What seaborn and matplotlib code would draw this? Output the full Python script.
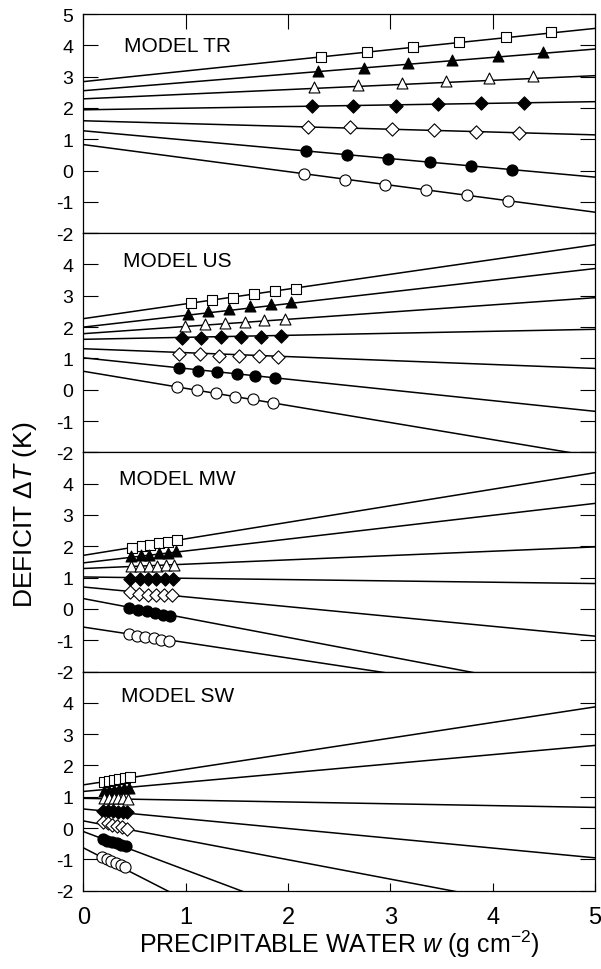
import matplotlib
matplotlib.use("Agg")
import matplotlib.pyplot as plt
import seaborn as sns
import numpy as np
import pandas as pd

# ---------------- data ----------------
PANELS = ["MODEL TR", "MODEL US", "MODEL MW", "MODEL SW"]
LINE_W = [0.0, 5.0]  # fitted lines evaluated at w = 0 and w = 5

# fitted line values at w=0 and w=5 (7 lines per panel, top to bottom)
TR_LINE_0 = [2.84, 2.55, 2.29, 1.94, 1.59, 1.27, 0.83]
TR_LINE_5 = [4.54, 3.88, 3.03, 2.20, 1.14, -0.21, -1.33]
US_LINE_0 = [2.27, 2.00, 1.79, 1.61, 1.31, 1.02, 0.59]
US_LINE_5 = [4.63, 3.87, 2.94, 1.93, 0.68, -0.69, -2.14]
MW_LINE_0 = [1.71, 1.47, 1.29, 1.02, 0.70, 0.33, -0.58]
MW_LINE_5 = [4.35, 3.37, 1.98, 0.81, -0.87, -2.77, -3.05]
SW_LINE_0 = [1.38, 1.17, 0.95, 0.61, 0.23, -0.11, -0.63]
SW_LINE_5 = [3.87, 2.64, 0.66, -0.95, -2.87, -6.25, -8.98]

# symbols: open square, filled triangle, open triangle, filled diamond,
# open diamond, filled circle, open circle
SERIES = ["sq", "tri_f", "tri_o", "dia_f", "dia_o", "cir_f", "cir_o"]

TR_W = [[2.32, 2.77, 3.22, 3.67, 4.13, 4.57],
        [2.29, 2.74, 3.17, 3.60, 4.05, 4.49],
        [2.25, 2.68, 3.11, 3.54, 3.96, 4.39],
        [2.23, 2.64, 3.06, 3.47, 3.89, 4.31],
        [2.20, 2.61, 3.02, 3.43, 3.84, 4.26],
        [2.18, 2.58, 2.98, 3.39, 3.79, 4.19],
        [2.16, 2.56, 2.95, 3.35, 3.75, 4.15]]
TR_DT = [[3.62, 3.78, 3.94, 4.10, 4.28, 4.41],
         [3.19, 3.28, 3.43, 3.54, 3.65, 3.78],
         [2.66, 2.73, 2.80, 2.87, 2.95, 3.01],
         [2.05, 2.05, 2.07, 2.11, 2.15, 2.16],
         [1.40, 1.38, 1.33, 1.28, 1.24, 1.19],
         [0.62, 0.51, 0.37, 0.27, 0.14, 0.03],
         [-0.11, -0.29, -0.45, -0.61, -0.78, -0.96]]

US_W = [[1.05, 1.26, 1.46, 1.67, 1.87, 2.08],
        [1.02, 1.22, 1.42, 1.63, 1.83, 2.03],
        [0.99, 1.19, 1.38, 1.58, 1.77, 1.97],
        [0.96, 1.15, 1.35, 1.54, 1.74, 1.93],
        [0.94, 1.14, 1.33, 1.52, 1.72, 1.90],
        [0.94, 1.12, 1.31, 1.50, 1.68, 1.87],
        [0.92, 1.11, 1.30, 1.48, 1.66, 1.85]]
US_DT = [[2.76, 2.85, 2.94, 3.05, 3.15, 3.23],
         [2.41, 2.50, 2.59, 2.66, 2.73, 2.80],
         [2.05, 2.09, 2.14, 2.17, 2.23, 2.27],
         [1.66, 1.66, 1.68, 1.68, 1.69, 1.71],
         [1.15, 1.15, 1.09, 1.07, 1.07, 1.04],
         [0.70, 0.61, 0.56, 0.51, 0.45, 0.36],
         [0.09, -0.02, -0.12, -0.23, -0.31, -0.42]]

MW_W = [[0.48, 0.57, 0.65, 0.74, 0.83, 0.92],
        [0.47, 0.56, 0.64, 0.74, 0.83, 0.91],
        [0.47, 0.55, 0.64, 0.72, 0.81, 0.89],
        [0.46, 0.55, 0.63, 0.71, 0.80, 0.88],
        [0.46, 0.54, 0.63, 0.71, 0.79, 0.87],
        [0.45, 0.53, 0.62, 0.70, 0.78, 0.85],
        [0.45, 0.52, 0.60, 0.69, 0.76, 0.84]]
MW_DT = [[1.96, 2.01, 2.05, 2.11, 2.14, 2.19],
         [1.69, 1.71, 1.73, 1.77, 1.80, 1.84],
         [1.37, 1.37, 1.38, 1.38, 1.39, 1.39],
         [0.97, 0.97, 0.96, 0.96, 0.96, 0.96],
         [0.54, 0.49, 0.46, 0.46, 0.43, 0.43],
         [0.04, -0.03, -0.07, -0.12, -0.18, -0.23],
         [-0.80, -0.85, -0.90, -0.93, -0.98, -1.01]]

SW_W = [[0.20, 0.25, 0.30, 0.35, 0.41, 0.46],
        [0.20, 0.25, 0.30, 0.35, 0.40, 0.45],
        [0.20, 0.25, 0.30, 0.34, 0.39, 0.44],
        [0.19, 0.24, 0.29, 0.34, 0.39, 0.43],
        [0.19, 0.24, 0.28, 0.33, 0.38, 0.43],
        [0.19, 0.23, 0.28, 0.33, 0.37, 0.42],
        [0.18, 0.23, 0.27, 0.32, 0.37, 0.41]]
SW_DT = [[1.47, 1.50, 1.53, 1.56, 1.59, 1.62],
         [1.18, 1.20, 1.23, 1.25, 1.27, 1.29],
         [0.96, 0.96, 0.95, 0.95, 0.95, 0.94],
         [0.56, 0.55, 0.54, 0.52, 0.51, 0.50],
         [0.20, 0.15, 0.11, 0.07, 0.03, -0.02],
         [-0.36, -0.41, -0.45, -0.49, -0.53, -0.57],
         [-0.92, -0.98, -1.05, -1.12, -1.19, -1.25]]

Y_TICKS = [-2, -1, 0, 1, 2, 3, 4, 5]
X_TICKS = [0, 1, 2, 3, 4, 5]

# ---------------- style ----------------
sns.set_theme(style="white")
plt.rcParams["font.family"] = ["Liberation Sans", "DejaVu Sans"]
plt.rcParams["mathtext.fontset"] = "custom"
plt.rcParams["mathtext.rm"] = "Liberation Sans"
plt.rcParams["mathtext.it"] = "Liberation Sans:italic"
plt.rcParams["axes.unicode_minus"] = False
plt.rcParams["text.color"] = "black"
plt.rcParams["axes.labelcolor"] = "black"
plt.rcParams["xtick.color"] = "black"
plt.rcParams["ytick.color"] = "black"

MARKERS = {"sq": ("s", "white", 56), "tri_f": ("^", "black", 62),
           "tri_o": ("^", "white", 62), "dia_f": ("D", "black", 46),
           "dia_o": ("D", "white", 46), "cir_f": ("o", "black", 64),
           "cir_o": ("o", "white", 64)}

fig, axes = plt.subplots(4, 1, figsize=(6.01, 9.70), dpi=100, sharex=True)
fig.subplots_adjust(left=83.3 / 601, right=595 / 601, top=1 - 15 / 970,
                    bottom=1 - 891.7 / 970, hspace=0)

panel_data = [
    (TR_LINE_0, TR_LINE_5, TR_W, TR_DT),
    (US_LINE_0, US_LINE_5, US_W, US_DT),
    (MW_LINE_0, MW_LINE_5, MW_W, MW_DT),
    (SW_LINE_0, SW_LINE_5, SW_W, SW_DT),
]
label_pos = [(0.40, 4.0), (0.39, 4.12), (0.35, 4.18), (0.37, 4.22)]

for i, (ax, name, (l0, l5, ws, dts)) in enumerate(zip(axes, PANELS, panel_data)):
    line_df = pd.DataFrame({
        "w": LINE_W * len(l0),
        "dT": [v for pair in zip(l0, l5) for v in pair],
        "line": [k for k in range(len(l0)) for _ in range(2)],
    })
    sns.lineplot(data=line_df, x="w", y="dT", units="line", estimator=None,
                 color="black", lw=1.1, ax=ax, legend=False, zorder=2)
    for key, w, dt in zip(SERIES, ws, dts):
        m, fc, s = MARKERS[key]
        sns.scatterplot(x=w, y=dt, marker=m, s=s, color=fc, edgecolor="black",
                        linewidth=0.8, ax=ax, legend=False, zorder=3)
    ax.set_xlim(0, 5)
    ax.set_ylim(-2, 5)
    ax.set_yticks(Y_TICKS)
    if i == 0:
        ax.set_yticklabels([str(t) for t in Y_TICKS])
    else:
        ax.set_yticklabels([str(t) for t in Y_TICKS[:-1]] + [""])
    ax.tick_params(axis="y", direction="in", left=True, right=True,
                   length=10.5, width=0.8, labelsize=14, pad=7, colors="black")
    ax.set_xlabel("")
    ax.set_ylabel("")
    for sp in ax.spines.values():
        sp.set_visible(True)
        sp.set_color("black")
        sp.set_linewidth(0.9)
    ax.text(label_pos[i][0], label_pos[i][1], name, fontsize=15,
            ha="left", va="center", color="black")
    if i == 0:
        ax.tick_params(axis="x", which="both", top=True, bottom=False,
                       direction="in", length=10.5, width=0.8,
                       labeltop=False, labelbottom=False)
    elif i == 3:
        ax.tick_params(axis="x", which="both", top=False, bottom=True,
                       direction="in", length=6, width=0.8,
                       labelbottom=True, labelsize=17, pad=11)
    else:
        ax.tick_params(axis="x", which="both", top=False, bottom=False,
                       labelbottom=False)

axes[-1].set_xticks(X_TICKS)
axes[-1].set_xticklabels([str(t) for t in X_TICKS])
axes[0].set_xticks(X_TICKS)

fig.text(0.5 * (83.3 + 595) / 601, 1 - 944 / 970,
         r"PRECIPITABLE WATER $\mathit{w}$ (g cm$^{-2}$)",
         ha="center", va="center", fontsize=18, color="black")
fig.text(25 / 601, 1 - 515 / 970, r"DEFICIT $\mathit{\Delta T}$ (K)",
         rotation=90, ha="center", va="center", fontsize=19, color="black")

fig.savefig("out.png", dpi=100)
